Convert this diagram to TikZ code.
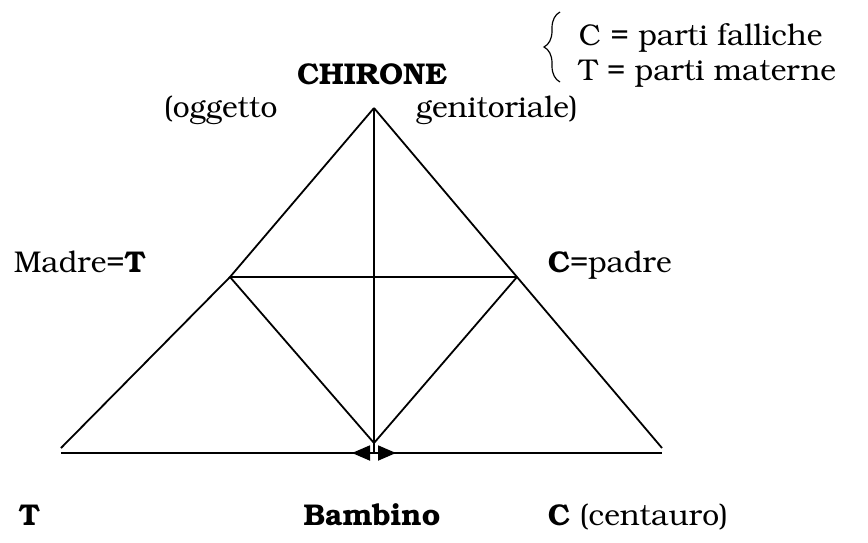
\documentclass[tikz,border=0pt]{standalone}
\usepackage[T1]{fontenc}
\usepackage{bookman}
\usetikzlibrary{arrows.meta,decorations.pathreplacing}

\begin{document}
\begin{tikzpicture}[x=0.5pt, y=-0.5pt, line width=0.9pt,
    lbl/.style={inner sep=0pt, font=\fontsize{15}{18}\selectfont}]
  \useasboundingbox (0,0) rectangle (868,542);
  % vertici del triangolo
  \coordinate (apex) at (374,108);
  \coordinate (ml) at (230,277);
  \coordinate (mr) at (517,277);
  \coordinate (bc) at (374,443);
  \coordinate (cl) at (61,448);
  \coordinate (cr) at (662,448);
  \coordinate (bl) at (61,453);
  \coordinate (br) at (662,453);
  \coordinate (vb) at (374,453);
  \coordinate (al) at (352,453);
  \coordinate (ar) at (396,453);
  % linee
  \draw (apex) -- (ml) -- (cl);
  \draw (apex) -- (mr) -- (cr);
  \draw (ml) -- (bc) -- (mr);
  \draw (ml) -- (mr);
  \draw (apex) -- (vb);
  \draw (bl) -- (br);
  \draw[<->, >={Triangle[length=9pt,width=7.5pt]}] (al) -- (ar);
  % etichette
  \node[lbl, anchor=base] (chirone) at (372,84) {\textbf{CHIRONE}};
  \node[lbl, anchor=base west] (ogg) at (163,117) {(oggetto};
  \node[lbl, anchor=base west] (gen) at (415,117) {genitoriale)};
  \node[lbl, anchor=base west] (madre) at (13,272) {Madre=\textbf{T}};
  \node[lbl, anchor=base west] (padre) at (547,272) {\textbf{C}=padre};
  \node[lbl, anchor=base west] (tl) at (18,525) {\textbf{T}};
  \node[lbl, anchor=base] (bamb) at (372,525) {\textbf{Bambino}};
  \node[lbl, anchor=base west] (cc) at (547,525) {\textbf{C} (centauro)};
  % legenda
  \node[lbl, anchor=base west] (cf) at (578,45) {C = parti falliche};
  \node[lbl, anchor=base west] (tm) at (578,80) {T = parti materne};
  \coordinate (bt) at (560,12);
  \coordinate (bb) at (560,82);
  \draw[line width=0.6pt, decorate, decoration={brace, amplitude=8pt}] (bb) -- (bt);
\end{tikzpicture}
\end{document}
